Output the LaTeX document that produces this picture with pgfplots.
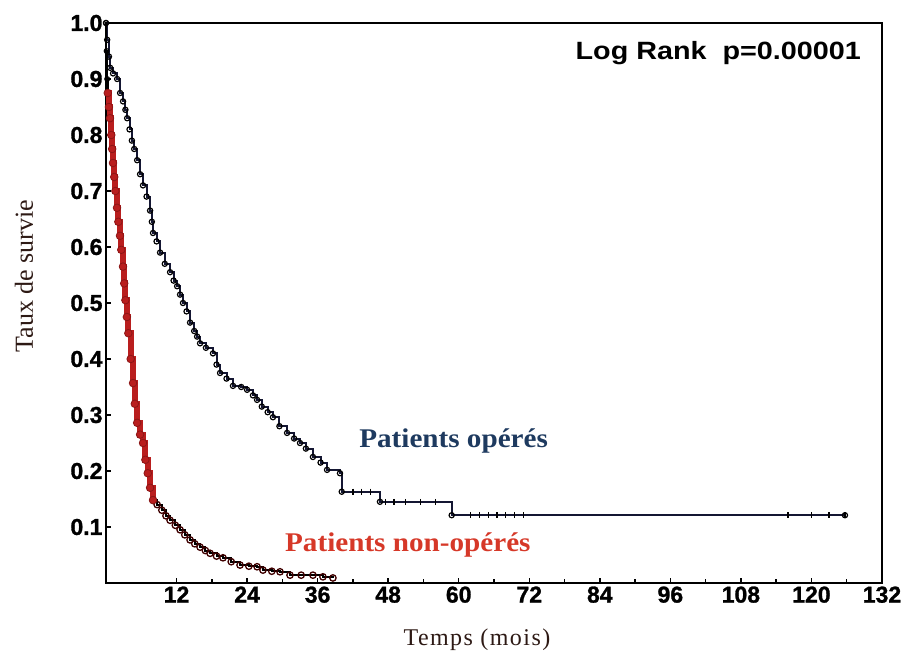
\documentclass[border=0pt]{standalone}
\usepackage{pgfplots}
\pgfplotsset{compat=1.18}
\usepackage{fontspec}
\setmainfont{Liberation Serif}
\newfontfamily\tickfont[FakeBold=1.2]{Liberation Sans}
\newfontfamily\lrfont[FakeStretch=1.15]{Liberation Sans}
\newfontfamily\labfont[FakeStretch=1.08]{Liberation Serif}
\newfontfamily\axlabfont[LetterSpace=6]{Liberation Serif}

\definecolor{opcol}{RGB}{30,58,95}
\definecolor{nopcol}{RGB}{214,56,40}
\definecolor{redband}{RGB}{185,30,30}
\definecolor{labcol}{RGB}{45,25,20}
\definecolor{curveblk}{RGB}{20,22,50}

% survie, patients operes (t en mois, S(t))
\pgfplotstableread{
t S
0 1.0
0.2 0.97
0.5 0.94
0.7 0.92
1.2 0.91
1.9 0.90
2.4 0.875
2.9 0.86
3.3 0.845
3.6 0.83
4.0 0.81
4.4 0.79
4.8 0.775
5.3 0.755
5.8 0.73
6.3 0.71
6.9 0.69
7.5 0.665
7.8 0.645
8.0 0.625
8.6 0.61
9.2 0.59
10.0 0.57
10.9 0.555
11.5 0.54
12.1 0.53
12.6 0.515
13.1 0.50
13.7 0.485
14.3 0.465
15.0 0.45
15.5 0.44
16.0 0.428
17.0 0.42
18.2 0.41
18.8 0.39
19.4 0.375
20.5 0.365
21.6 0.352
23.0 0.350
24.0 0.345
25.0 0.335
25.7 0.327
26.5 0.315
27.5 0.305
28.4 0.296
29.5 0.28
30.8 0.268
32.0 0.258
33.0 0.25
34.0 0.24
35.2 0.225
36.5 0.215
37.6 0.202
39.8 0.196
40.1 0.163
46.6 0.145
58.8 0.121
125.7 0.121
}\operes

% censures sur les paliers
\pgfplotstableread{
t S
42.0 0.163
43.5 0.163
45.0 0.163
47.5 0.145
49.0 0.145
51.0 0.145
53.5 0.145
56.0 0.145
62.0 0.121
63.5 0.121
65.0 0.121
66.5 0.121
68.0 0.121
69.5 0.121
71.0 0.121
116.0 0.121
120.0 0.121
123.0 0.121
125.7 0.121
}\censures

% non operes, debut
\pgfplotstableread{
t S
0 1.0
0.1 0.95
0.2 0.90
0.3 0.875
}\nonopO

% non operes, partie dense
\pgfplotstableread{
t S
0.3 0.875
0.5 0.85
0.68 0.83
0.9 0.80
1.05 0.775
1.19 0.75
1.4 0.725
1.6 0.70
1.87 0.67
2.1 0.645
2.38 0.62
2.6 0.595
2.89 0.565
3.1 0.535
3.3 0.505
3.55 0.475
3.8 0.446
4.2 0.40
4.6 0.357
4.9 0.32
5.3 0.286
5.8 0.265
6.3 0.25
6.7 0.22
7.1 0.196
7.5 0.17
8.0 0.148
}\nonopA

\pgfplotstableread{
t S
8.0 0.148
8.7 0.14
9.5 0.13
10.2 0.12
10.9 0.112
11.8 0.103
12.6 0.095
13.4 0.086
14.3 0.077
15.1 0.07
16.0 0.064
16.9 0.058
17.7 0.053
18.8 0.048
19.9 0.045
21.3 0.038
22.8 0.032
24.3 0.030
25.7 0.029
26.7 0.023
28.2 0.021
29.6 0.02
31.3 0.014
33.2 0.014
35.2 0.014
36.9 0.011
38.6 0.009
}\nonopB

\begin{document}
\begin{tikzpicture}
\begin{axis}[
  scale only axis,
  width=776pt, height=560pt,
  xmin=0, xmax=132, ymin=0, ymax=1,
  axis line style={line width=2.4pt, black},
  xtick={12,24,36,48,60,72,84,96,108,120,132},
  xticklabels={12,24,36,48,60,72,84,96,108,120,132},
  minor x tick num=1,
  ytick={0.1,0.2,0.3,0.4,0.5,0.6,0.7,0.8,0.9,1.0},
  yticklabels={0.1,0.2,0.3,0.4,0.5,0.6,0.7,0.8,0.9,1.0},
  tick align=inside,
  xtick pos=bottom, ytick pos=left,
  major tick length=5pt, minor tick length=4pt,
  tick style={black, line width=1.4pt},
  ticklabel style={font=\tickfont\bfseries\fontsize{23}{25}\selectfont},
  xlabel={\axlabfont\fontsize{24}{26}\selectfont Temps (mois)},
  ylabel={\fontsize{26}{28}\selectfont Taux de survie},
  xlabel style={at={(rel axis cs:0.478,-0.102)}, anchor=center, text=labcol},
  ylabel style={at={(rel axis cs:-0.1057,0.548)}, anchor=center, text=labcol},
  clip=false,
]
\coordinate (ll) at (rel axis cs:0,0);
\coordinate (ur) at (rel axis cs:1,1);

% patients operes
\addplot[const plot, color=curveblk, line width=2pt] table[x=t,y=S] {\operes};
\addplot[only marks, mark=o, mark size=2.6pt, mark options={draw=black, fill=white, line width=1.2pt}]
  table[x=t,y=S] {\operes};
\addplot[only marks, mark=|, mark size=3pt, mark options={draw=black, line width=1.2pt}]
  table[x=t,y=S] {\censures};

% patients non operes
\addplot[const plot, color=black, line width=1.6pt, mark=o, mark size=2.4pt,
  mark options={draw=black, fill=white, line width=1.1pt}]
  table[x=t,y=S] {\nonopO};
\addplot[const plot, color=black, line width=2pt, mark=o, mark size=3.2pt,
  mark options={draw=black!75!red, fill=white, line width=1.3pt}]
  table[x=t,y=S] {\nonopB};
\addplot[const plot, color=redband, line width=6pt, mark=*, mark size=3.8pt,
  mark options={draw=redband!75!black, fill=redband, line width=0.8pt}]
  table[x=t,y=S] {\nonopA};

\node[font=\lrfont\bfseries\fontsize{25}{27}\selectfont, anchor=center]
  at (rel axis cs:0.789,0.946) {Log Rank\ \ p=0.00001};
\node[font=\labfont\bfseries\fontsize{27}{29}\selectfont, text=opcol, anchor=center]
  at (rel axis cs:0.448,0.254) {Patients opérés};
\node[font=\labfont\bfseries\fontsize{27}{29}\selectfont, text=nopcol, anchor=center]
  at (rel axis cs:0.389,0.068) {Patients non-opérés};
\end{axis}
\path (ll) ++(-106pt,-77pt) coordinate (bbA);
\path (ur) ++(26pt,23pt) coordinate (bbB);
\pgfresetboundingbox
\useasboundingbox (bbA) rectangle (bbB);
\end{tikzpicture}
\end{document}
